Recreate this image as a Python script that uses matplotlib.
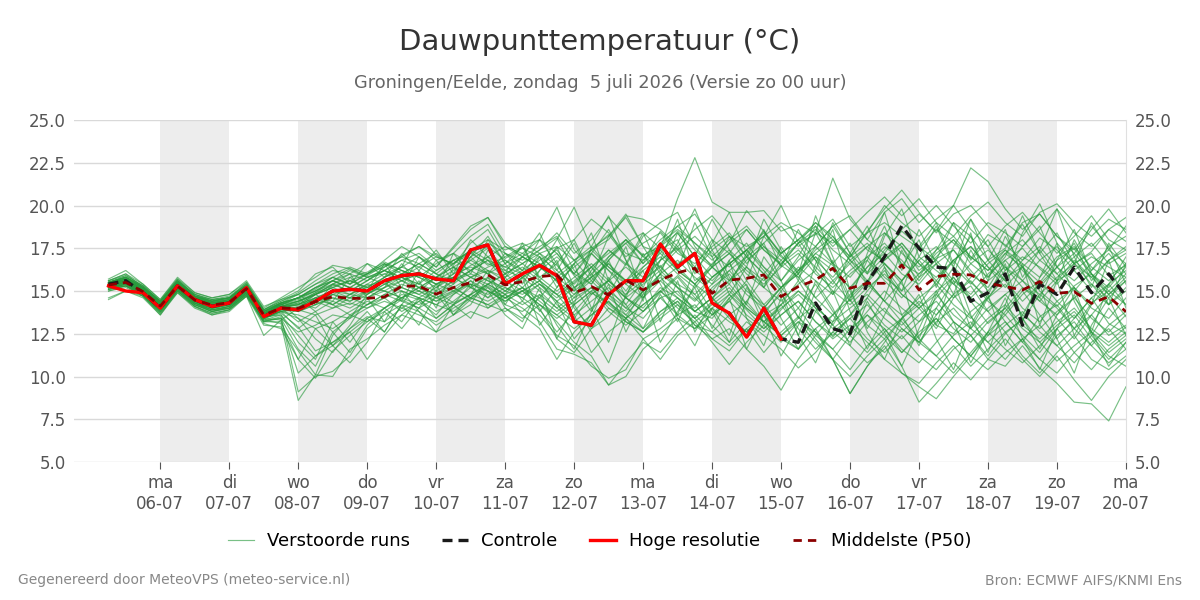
import numpy as np
import pandas as pd
import matplotlib
matplotlib.use("Agg")
import matplotlib.pyplot as plt
from matplotlib.lines import Line2D

# 6-hourly steps, 05-07 06:00 .. 20-07 00:00
times = pd.date_range("2026-07-05 06:00", periods=60, freq="6h")

hires = [15.3, 15.0, 14.9, 14.0, 15.3, 14.5, 14.1, 14.3, 15.2, 13.5, 14.0, 13.9,
         14.4, 15.0, 15.1, 15.0, 15.6, 15.9, 16.0, 15.7, 15.6, 17.4, 17.7, 15.4,
         16.0, 16.5, 15.9, 13.2, 13.0, 14.8, 15.6, 15.6, 17.75, 16.4, 17.2, 14.3,
         13.7, 12.3, 14.0, 12.2]

control = [15.4, 15.6, 14.9, 14.0, 15.3, 14.5, 14.1, 14.3, 15.2, 13.5, 14.0, 13.9,
           14.4, 15.0, 15.1, 15.0, 15.6, 15.9, 16.0, 15.7, 15.6, 17.4, 17.7, 15.4,
           16.0, 16.5, 15.9, 13.2, 13.0, 14.8, 15.6, 15.6, 17.7, 16.4, 17.2, 14.3,
           13.7, 12.3, 14.0, 12.2, 12.0, 14.3, 12.8, 12.5, 15.5, 17.0, 18.8, 17.5,
           16.4, 16.3, 14.4, 14.9, 16.0, 13.0, 15.4, 14.8, 16.4, 14.9, 16.0, 14.7]

median = [15.35, 15.5, 14.96, 14.12, 15.29, 14.47, 14.18, 14.32, 15.14, 13.6, 13.99, 13.99,
          14.38, 14.67, 14.57, 14.57, 14.65, 15.29, 15.29, 14.82, 15.2, 15.49, 15.94, 15.35,
          15.55, 15.84, 15.94, 14.9, 15.26, 14.77, 15.64, 15.06, 15.64, 16.07, 16.33, 14.86,
          15.64, 15.74, 15.94, 14.67, 15.26, 15.64, 16.33, 15.16, 15.45, 15.45, 16.52, 15.06,
          15.84, 15.98, 15.94, 15.45, 15.26, 15.06, 15.55, 14.86, 14.96, 14.28, 14.67, 13.79]

members = [
    [15.6,15.9,15.3,14.4,15.6,14.8,14.5,14.7,15.4,13.9,14.4, 14.9,15.6,16.2,16.0,15.6,16.4,17.1,17.6,16.8,17.2,18.2,18.9,
     17.2,16.6,17.4,18.1,16.2,15.4,16.8,18.0,17.1,17.6,18.8,19.5, 18.0,17.2,18.6,17.4,16.5,17.8,18.3,19.2,17.6,18.4,19.0,18.2,
     17.5,18.6,17.8,16.9,18.3,17.7,16.8,18.1,17.4,16.2,17.0,16.4,15.8],
    [15.1,15.3,14.8,13.8,15.1,14.2,13.8,14.0,14.8,13.3,13.1, 8.6,10.1,12.4,13.6,13.2,14.0,14.8,14.5,13.8,14.4,15.2,15.8,
     15.0,14.6,13.9,12.6,13.8,14.9,14.3,13.6,14.8,16.0,15.2,13.8, 13.4,14.6,15.4,13.0,14.2,15.6,14.0,12.3,13.6,15.0,16.2,14.8,
     14.0,12.8,14.6,15.3,13.8,12.6,13.3,14.8,14.0,12.8,14.3,15.0,14.2],
    [15.4,15.7,15.1,14.3,15.4,14.6,14.3,14.5,15.2,13.7,14.1, 14.3,14.9,15.6,15.2,15.0,15.8,16.4,18.3,17.1,16.5,17.8,18.6,
     16.9,17.5,17.0,15.5,14.6,16.2,17.4,16.5,18.2,19.0,19.6,17.6, 16.4,15.4,17.2,18.5,17.1,16.0,17.6,18.8,17.2,16.1,17.4,18.5,
     17.6,16.8,19.0,18.2,16.8,17.5,18.9,17.2,18.4,16.6,17.3,18.6,17.9],
    [15.2,15.4,14.9,14.0,15.2,14.4,14.0,14.2,15.0,13.5,13.8, 13.6,13.2,12.8,13.5,14.2,14.6,13.8,14.4,15.0,14.3,14.8,15.4,
     14.8,15.2,14.0,12.2,11.4,12.8,14.0,13.2,12.6,13.8,14.6,13.4, 12.2,11.5,12.8,11.4,12.6,13.5,12.2,11.0,12.4,13.6,12.8,11.6,
     10.8,12.0,13.2,12.4,11.2,12.5,13.4,12.0,10.9,11.8,12.6,11.4,12.2],
    [15.5,15.8,15.2,14.3,15.5,14.7,14.4,14.6,15.3,13.8,14.2, 14.5,15.0,15.4,15.8,16.1,16.7,16.2,15.8,15.2,16.0,16.8,17.5,
     16.2,15.8,16.5,17.2,15.9,14.8,15.6,16.4,15.5,16.8,17.5,16.2, 15.4,16.8,17.8,16.4,15.2,16.0,17.2,16.5,15.1,16.4,17.6,16.8,
     15.6,16.9,17.4,16.0,15.2,16.8,17.5,16.3,15.4,16.6,17.2,15.9,16.5],
    [15.0,15.2,14.7,13.7,15.0,14.1,13.6,13.9,14.7,13.2,13.5, 9.1,10.0,10.3,11.2,12.8,13.6,14.2,13.8,13.0,13.6,14.5,15.2,
     14.2,13.8,14.6,15.8,14.0,12.8,13.5,14.6,13.8,15.0,15.9,14.8, 13.6,14.4,15.6,14.2,13.0,14.0,15.4,13.8,12.6,13.8,15.0,14.0,
     13.2,14.6,15.8,14.4,13.1,14.0,15.2,14.6,13.4,12.2,13.6,14.8,13.5],
    [15.6,16.0,15.4,14.5,15.7,14.9,14.6,14.8,15.5,14.0,14.6, 15.2,15.8,16.5,16.3,15.8,16.2,16.8,17.2,16.4,17.5,18.6,19.3,
     17.8,17.0,16.4,18.0,19.9,17.5,18.2,19.3,17.6,17.2,18.5,17.4, 16.5,17.8,19.7,18.5,17.2,18.0,19.0,18.2,17.0,18.5,19.8,20.9,
     19.6,18.4,19.5,20.0,18.8,17.6,19.0,19.5,18.2,17.2,18.6,19.8,18.4],
    [15.3,15.6,15.0,14.2,15.3,14.5,14.2,14.4,15.1,13.6,14.0, 14.2,14.6,15.0,14.8,14.6,15.2,15.6,16.0,15.4,15.8,16.5,17.0,
     16.4,16.0,17.2,16.5,15.2,16.0,17.0,17.8,18.4,17.5,20.4,22.8, 20.2,19.6,19.6,19.7,18.5,18.9,18.4,17.8,18.6,17.4,16.8,17.6,
     16.2,17.0,18.0,16.6,15.8,17.2,16.4,15.5,16.8,17.5,16.0,15.2,16.4],
    [15.1,15.4,14.8,13.9,15.1,14.3,13.9,14.1,14.9,13.4,13.7, 12.9,11.5,12.0,12.8,13.5,13.2,14.0,14.6,14.2,13.8,14.6,15.3,
     14.6,14.0,13.2,11.6,11.3,10.8,9.5,10.0,11.6,12.5,13.4,12.8, 14.0,13.2,12.6,13.8,14.8,13.5,12.4,13.6,14.5,13.0,12.2,13.4,
     14.2,13.0,12.5,13.8,14.6,13.2,12.0,13.5,14.2,12.8,11.8,13.0,13.8],
    [15.4,15.6,15.1,14.2,15.4,14.6,14.3,14.4,15.2,13.7,14.1, 14.0,14.4,14.8,14.6,15.3,15.6,16.0,15.2,14.8,15.4,16.2,16.8,
     15.6,16.2,15.4,14.6,15.5,16.4,15.0,14.2,15.6,16.5,15.2,14.5, 15.8,16.6,15.3,14.0,15.2,16.2,17.0,15.6,14.4,15.5,16.6,15.4,
     14.2,15.6,16.8,15.5,14.6,15.8,16.4,15.0,14.1,15.3,16.0,14.8,15.6],
    [15.2,15.5,14.9,14.0,15.2,14.4,14.0,14.2,15.0,13.4,13.3, 10.2,11.2,12.0,12.6,13.4,14.0,14.6,15.0,14.4,14.9,15.6,15.0,
     14.4,15.0,15.6,14.2,13.4,14.8,15.6,14.6,13.8,14.9,15.8,14.6, 13.6,14.8,13.9,12.8,13.9,15.0,14.2,13.0,14.6,15.6,14.4,13.2,
     12.0,13.6,14.8,13.5,12.4,13.8,15.0,13.6,12.2,13.4,14.6,13.1,12.5],
    [15.5,15.8,15.2,14.4,15.5,14.7,14.4,14.6,15.3,13.8,14.3, 14.6,15.1,15.8,16.3,15.9,16.5,17.0,16.6,16.0,16.8,17.3,16.5,
     17.0,17.6,18.0,17.2,16.0,17.4,18.3,17.0,17.8,18.4,17.2,16.6, 17.6,18.4,17.0,17.8,18.8,17.6,18.4,21.6,19.2,18.0,17.2,18.6,
     19.5,18.5,20.0,22.2,21.4,19.8,18.6,19.5,18.2,17.4,18.8,17.6,18.2],
    [15.3,15.5,15.0,14.1,15.3,14.5,14.1,14.3,15.1,13.6,14.0, 13.8,14.2,14.6,14.4,14.9,15.2,15.8,15.4,15.0,15.6,16.0,15.6,
     15.2,14.8,15.4,14.4,13.6,14.4,15.2,14.0,13.4,14.6,15.0,13.8, 14.6,13.4,12.6,13.6,14.2,12.8,11.6,12.6,13.4,12.2,11.4,12.4,
     11.2,10.4,11.6,12.4,11.0,10.6,11.8,10.5,9.6,8.5,8.4,7.4,9.4],
    [15.4,15.7,15.1,14.2,15.4,14.6,14.2,14.4,15.2,13.7,14.1, 14.2,14.8,15.4,15.0,15.6,16.2,16.8,16.4,15.8,16.6,17.4,16.8,
     16.0,16.6,17.2,16.0,16.8,17.6,16.4,15.6,16.8,17.6,16.6,17.2, 16.4,15.6,16.8,17.6,16.5,15.8,17.0,16.2,15.2,16.4,17.2,16.0,
     15.4,16.6,17.4,16.2,15.0,16.2,17.0,16.4,15.6,16.8,15.8,14.8,15.8],
    [15.0,15.3,14.7,13.8,15.0,14.2,13.8,14.0,14.8,13.2,13.4, 12.6,13.0,13.6,13.4,14.0,14.4,14.0,13.6,13.2,14.0,14.6,14.2,
     13.8,14.4,13.6,12.4,11.8,10.6,9.9,10.4,12.2,12.8,13.6,14.2, 13.0,12.0,13.2,12.4,11.6,10.5,11.4,12.6,11.8,10.8,11.6,12.8,
     12.0,11.2,10.2,11.4,12.6,11.6,10.8,11.8,12.8,11.4,10.4,11.6,12.4],
    [15.5,15.9,15.3,14.4,15.6,14.8,14.4,14.6,15.4,13.9,14.4, 14.8,15.4,16.0,16.4,16.0,16.8,17.6,17.0,16.4,17.6,18.8,19.3,
     17.6,17.0,17.6,18.2,16.8,15.6,16.8,17.8,16.6,17.6,18.4,17.0, 15.8,16.6,17.4,16.2,15.0,16.2,17.4,18.2,16.8,15.6,16.8,17.8,
     16.6,15.4,16.8,17.6,16.4,15.2,16.4,17.4,16.0,15.0,16.2,17.2,16.0],
    [15.2,15.4,14.8,13.9,15.1,14.3,13.9,14.1,14.9,13.4,13.8, 13.9,13.6,14.0,14.3,14.0,14.6,15.0,14.6,14.2,14.8,15.4,15.0,
     14.6,15.2,14.4,13.6,14.4,15.2,14.0,13.4,14.2,15.0,14.2,13.4, 14.4,15.2,14.0,13.2,14.0,14.8,13.8,12.8,13.6,14.6,13.4,12.6,
     13.6,14.4,13.2,12.4,13.4,14.2,13.0,12.2,13.2,14.0,12.8,12.0,12.9],
    [15.1,15.3,14.8,13.8,15.0,14.2,13.8,14.0,14.8,13.2,13.2, 11.0,9.9,11.5,12.4,13.2,13.8,14.5,14.0,13.4,14.2,14.8,14.4,
     15.0,15.8,15.0,14.0,14.8,15.6,14.6,13.8,15.0,15.8,14.8,14.0, 15.2,16.0,14.8,14.0,15.2,16.0,14.6,13.6,14.8,15.6,14.4,13.6,
     14.6,15.4,14.2,13.4,14.6,15.4,14.0,13.2,14.4,15.2,14.0,13.4,14.6],
    [15.5,15.8,15.2,14.3,15.5,14.7,14.3,14.5,15.3,13.8,14.2, 14.6,15.2,15.6,15.2,15.8,16.0,16.4,17.0,16.2,16.8,17.2,16.6,
     16.2,17.0,16.4,17.5,18.0,19.2,18.4,17.2,16.8,17.8,18.6,17.8, 16.8,17.8,18.6,17.4,16.6,17.8,19.0,18.0,17.0,18.4,20.0,19.0,
     18.2,19.2,20.0,18.6,17.6,18.8,19.6,18.4,17.2,18.2,19.4,18.0,17.4],
    [15.3,15.5,15.0,14.1,15.3,14.4,14.1,14.3,15.1,13.5,13.9, 14.1,14.5,14.2,14.8,15.2,15.0,15.6,16.0,15.4,15.0,15.8,16.2,
     15.6,15.0,15.6,14.8,14.2,15.0,15.6,14.6,14.0,15.2,14.6,13.8, 14.6,13.6,12.6,13.6,12.2,11.6,12.8,11.0,9.0,10.6,11.8,10.2,
     9.6,10.8,11.8,10.6,11.6,12.6,11.2,10.2,11.4,12.4,11.0,10.4,11.2],
    [15.4,15.6,15.1,14.2,15.4,14.6,14.2,14.4,15.2,13.7,14.1, 14.4,14.8,15.2,15.6,15.2,15.8,16.2,15.8,15.4,16.0,16.4,16.0,
     15.4,16.0,16.6,15.8,15.0,15.8,16.6,15.6,15.0,16.0,16.8,15.8, 15.0,16.2,17.0,16.0,15.2,16.4,15.6,14.8,16.0,16.8,15.6,14.6,
     15.8,16.6,15.4,14.6,15.6,16.4,15.2,14.4,15.6,16.2,15.0,14.2,15.2],
    [15.2,15.4,14.9,14.0,15.2,14.3,14.0,14.2,15.0,13.4,13.8, 13.4,12.8,13.2,13.8,14.4,14.0,14.6,15.2,14.6,14.2,14.8,15.4,
     14.8,14.2,14.8,14.0,13.2,14.0,14.8,13.6,12.8,13.8,14.4,13.0, 12.2,12.8,11.6,10.6,9.2,11.0,12.4,11.6,10.4,11.8,12.8,11.4,
     12.4,13.4,12.2,11.2,12.6,13.6,12.4,11.4,12.8,13.6,12.2,11.0,12.0],
    [15.7,16.2,15.4,14.5,15.8,14.9,14.6,14.8,15.6,14.1,14.5, 14.8,15.4,15.8,15.4,16.0,16.6,16.0,16.6,17.2,16.4,17.0,17.6,
     16.8,16.2,17.0,16.2,15.4,16.4,17.4,16.6,15.8,16.8,17.6,16.4, 15.6,16.6,17.4,16.4,15.6,16.8,17.6,16.6,15.8,17.0,17.8,16.6,
     16.0,17.2,18.0,17.0,16.2,17.4,16.6,15.8,17.0,17.6,16.4,15.6,16.6],
    [14.6,15.0,14.6,13.6,14.9,14.0,13.6,13.8,14.7,13.0,12.9, 11.5,10.1,10.0,11.6,12.2,13.0,13.6,13.2,12.6,13.2,13.8,13.4,
     14.0,13.4,14.2,13.6,12.8,13.6,14.4,13.2,12.6,13.4,14.2,13.0, 12.6,13.6,14.4,13.2,12.4,13.4,14.2,13.0,12.0,13.2,14.0,12.8,
     12.0,13.2,14.0,12.8,12.0,13.0,13.8,12.6,11.8,12.8,13.6,12.4,13.0],
    [15.4,15.7,15.1,14.3,15.5,14.7,14.3,14.5,15.3,13.8,14.2, 14.4,14.9,15.3,15.6,16.0,16.4,17.0,17.6,17.0,16.6,17.4,18.0,
     17.4,17.8,17.2,17.6,16.8,17.4,18.0,19.4,19.2,18.6,17.6,18.6, 19.4,18.2,17.6,18.2,19.0,18.4,17.6,18.8,19.4,18.0,19.6,20.4,
     19.0,20.0,18.8,17.8,19.0,18.4,17.6,18.6,19.8,18.4,17.6,18.6,19.3],
    [15.3,15.6,15.0,14.1,15.3,14.5,14.2,14.3,15.1,13.6,14.0, 14.0,14.6,14.2,14.8,15.4,15.0,14.6,15.2,15.8,15.2,14.6,15.4,
     16.0,15.2,16.2,17.0,16.0,17.2,16.2,15.0,16.4,17.4,16.2,15.4, 16.6,17.4,16.4,15.6,16.8,15.8,14.6,15.6,16.6,15.4,14.4,15.6,
     16.8,15.6,14.6,15.8,16.8,15.6,14.4,15.4,16.4,15.2,14.2,15.4,16.2],
    [15.2,15.5,14.9,14.0,15.2,14.4,14.0,14.2,15.0,13.5,13.9, 13.8,14.2,14.6,14.2,14.8,15.4,15.0,14.6,15.2,15.8,15.2,14.6,
     15.2,14.6,15.4,14.8,13.6,11.4,12.6,13.4,12.2,11.0,12.4,13.2, 12.0,10.7,12.0,13.0,12.0,13.2,12.6,11.6,12.8,13.6,12.4,11.4,
     12.6,13.4,12.2,11.2,12.4,13.2,12.0,11.0,12.4,13.2,11.8,10.8,11.6],
    [15.4,15.7,15.1,14.2,15.4,14.6,14.3,14.4,15.2,13.7,14.2, 14.6,15.0,15.6,16.2,15.8,15.4,16.0,16.6,16.0,15.6,16.2,16.8,
     16.4,17.0,16.4,15.6,16.4,17.2,16.2,15.4,16.2,17.0,16.0,15.2, 16.4,17.2,16.0,15.2,16.6,17.4,16.4,15.4,16.8,17.6,16.6,15.6,
     17.0,16.2,15.4,16.6,17.4,16.4,15.6,16.8,17.6,16.6,15.8,16.8,17.4],
    [15.1,15.3,14.7,13.6,15.0,14.1,13.7,13.9,14.7,12.4,13.3, 14.0,14.8,14.2,13.6,14.2,14.8,14.4,14.0,14.6,15.0,14.4,14.0,
     14.6,15.0,14.2,13.4,14.2,15.0,13.8,13.0,13.8,14.6,13.6,12.8, 13.6,14.4,13.4,12.6,13.6,14.4,13.2,12.4,13.4,14.2,13.0,12.2,
     13.2,14.0,12.8,12.0,13.2,14.0,12.8,12.0,13.0,13.8,12.6,11.8,12.6],
    [15.5,15.8,15.2,14.3,15.5,14.7,14.4,14.6,15.3,13.8,14.3, 14.6,15.2,15.6,15.2,15.8,16.2,15.8,15.4,16.2,16.8,16.2,17.0,
     17.6,17.2,18.0,19.9,17.4,16.4,17.2,18.0,17.0,16.4,17.4,18.2, 17.2,16.4,17.4,18.2,17.0,16.2,17.2,18.0,16.8,16.0,17.0,17.8,
     16.6,15.8,16.8,17.6,16.4,15.6,16.8,17.6,16.4,15.6,16.6,17.4,16.6],
    [15.3,15.5,15.0,14.1,15.3,14.5,14.1,14.3,15.1,13.6,14.0, 14.2,14.6,14.4,14.0,14.6,15.0,14.6,14.2,14.8,15.2,14.6,14.2,
     14.8,13.6,12.8,11.0,12.6,13.6,14.4,13.4,12.6,13.6,14.4,13.4, 14.2,15.0,14.0,13.2,14.2,15.0,14.0,13.2,14.0,14.8,13.8,13.0,
     14.0,14.8,13.6,12.8,14.0,14.8,13.6,12.8,13.8,14.6,13.4,12.6,13.6],
    [15.3,15.6,15.0,14.1,15.3,14.5,14.2,14.3,15.1,13.6,14.0, 14.3,14.0,14.8,15.2,14.8,15.4,15.8,15.2,14.8,15.6,16.2,15.6,
     15.0,15.8,16.4,15.6,14.8,15.8,16.6,15.4,14.6,15.6,16.4,15.4, 14.6,15.6,16.4,15.2,14.4,15.4,16.2,15.0,14.2,15.2,16.0,14.8,
     14.0,15.0,15.8,14.6,13.8,14.8,15.6,14.4,13.6,14.6,15.4,14.2,15.0],
    [15.5,15.8,15.3,14.4,15.6,14.8,14.5,14.6,15.4,13.9,14.3, 14.6,15.0,15.6,16.0,16.6,16.2,15.8,16.4,17.0,16.6,17.2,17.8,
     17.2,16.8,17.4,18.4,17.2,18.0,19.3,18.2,17.0,18.0,18.8,17.8, 17.0,18.0,18.8,17.6,16.8,17.8,18.6,17.4,16.6,17.6,18.4,17.2,
     16.4,17.4,18.2,17.0,16.2,17.2,18.0,16.8,16.0,17.0,17.8,16.6,17.2],
    [15.2,15.4,14.9,14.0,15.2,14.3,14.0,14.2,15.0,13.5,13.9, 14.0,14.4,14.0,14.6,15.0,14.6,15.2,14.8,14.4,15.0,15.4,15.0,
     14.4,15.0,14.2,13.2,12.0,11.2,9.5,10.8,12.0,11.4,12.6,13.6, 12.6,11.8,12.8,13.6,12.4,11.6,12.8,13.6,12.4,11.4,12.6,13.4,
     12.2,11.2,12.4,13.2,12.0,11.0,12.2,13.0,11.8,10.8,12.0,12.8,11.6],
    [15.3,15.5,15.0,14.1,15.3,14.4,14.1,14.3,15.1,13.6,13.9, 14.0,14.4,14.8,14.4,15.0,15.6,15.2,14.8,15.4,15.8,15.2,14.8,
     15.4,16.0,15.2,14.4,15.2,15.8,14.8,14.0,15.0,15.6,14.6,13.8, 14.6,15.4,14.2,13.2,12.4,13.2,12.0,11.0,10.0,11.2,12.2,10.6,
     8.5,9.6,10.8,9.8,11.0,12.2,11.0,10.0,11.2,9.8,8.6,10.0,11.0],
    [15.4,15.7,15.1,14.2,15.4,14.6,14.3,14.5,15.2,13.7,14.1, 14.4,14.8,15.2,14.8,15.4,16.0,15.6,15.2,15.8,16.4,15.8,15.4,
     16.0,16.6,15.8,15.0,15.8,16.6,15.6,14.8,15.6,16.4,15.4,14.8, 15.8,16.6,17.4,18.4,17.2,18.0,18.8,17.6,18.6,19.6,20.5,19.4,
     20.4,19.0,18.2,19.4,20.2,19.0,18.2,19.6,20.1,19.0,18.2,19.2,18.6],
    [15.3,15.6,15.0,14.2,15.4,14.5,14.2,14.4,15.1,13.7,14.1, 14.2,14.8,15.4,15.0,15.6,16.2,15.6,15.0,15.8,16.4,15.8,16.4,
     16.8,16.0,16.8,17.4,16.0,15.4,17.0,18.0,16.6,18.5,17.4,16.2, 17.4,18.2,17.0,16.0,17.2,18.0,16.8,15.8,17.0,17.8,16.6,15.6,
     16.8,17.6,16.4,15.4,16.6,17.4,16.2,15.2,16.4,17.2,16.0,15.0,16.0],
    [15.2,15.4,14.8,13.9,15.1,14.3,13.9,14.1,14.9,13.4,13.8, 14.0,14.6,15.0,14.6,14.2,14.8,15.4,15.0,14.6,15.2,15.8,15.2,
     14.6,15.2,14.6,13.8,14.6,15.2,14.2,13.4,14.2,15.0,14.0,13.2, 14.0,14.8,13.6,12.8,13.6,14.4,13.2,12.2,13.0,12.0,11.0,10.2,
     9.4,8.7,10.0,11.2,10.4,11.4,12.2,11.0,10.2,11.4,12.4,11.2,10.6],
    [15.4,15.7,15.1,14.2,15.4,14.6,14.2,14.4,15.2,13.7,14.1, 14.4,14.8,15.2,15.6,15.2,15.8,16.4,16.0,15.6,16.2,16.8,16.2,
     15.8,16.4,15.6,14.8,15.6,16.4,15.4,14.6,15.4,16.2,15.2,14.4, 15.4,16.2,15.0,14.2,15.2,14.0,12.6,11.0,9.0,10.6,12.0,13.4,
     14.4,13.6,14.8,15.6,14.4,13.6,14.8,15.6,14.4,13.4,14.6,15.4,14.2],
    [15.5,15.8,15.2,14.3,15.5,14.7,14.4,14.6,15.3,13.8,14.3, 14.6,15.2,15.8,15.4,16.0,16.6,16.2,15.8,16.6,17.2,16.6,16.0,
     16.6,17.2,16.6,15.8,16.6,17.4,16.4,15.6,16.4,17.2,16.2,15.4, 16.4,17.2,16.2,15.4,16.4,17.2,16.0,15.2,16.2,17.0,15.8,15.0,
     16.0,16.8,15.6,14.8,16.0,16.8,15.6,14.8,15.8,16.6,15.4,14.6,15.6],
    [15.3,15.5,14.9,14.0,15.2,14.4,14.0,14.2,15.0,13.5,13.6, 12.4,11.2,11.8,12.6,11.0,12.4,13.6,14.4,13.6,14.8,15.6,14.6,
     15.8,14.4,16.2,17.6,15.2,13.8,16.8,14.6,17.2,15.4,13.6,16.4, 18.0,15.8,14.2,17.0,15.6,13.4,16.6,18.6,15.0,12.8,14.6,17.4,
     15.2,13.0,16.0,18.4,14.8,16.6,13.2,15.8,17.8,14.4,12.6,15.4,17.0],
    [15.4,15.8,15.0,14.3,15.5,14.5,14.4,14.4,15.3,13.6,14.3, 13.4,12.2,11.4,12.8,13.8,12.6,14.2,15.6,14.0,16.4,15.2,17.4,
     16.0,17.8,15.6,16.8,14.2,17.6,19.4,16.8,14.4,17.8,16.2,19.0, 17.0,14.8,16.4,19.2,17.4,15.6,18.4,16.6,14.4,17.2,19.6,16.4,
     18.0,15.2,17.6,19.2,16.8,18.6,15.8,17.4,19.8,17.0,15.2,17.8,16.4],
    [15.2,15.3,14.8,13.9,15.1,14.3,13.8,14.1,14.9,13.3,13.4, 11.6,10.6,12.6,11.4,13.0,14.0,13.2,14.6,13.4,14.2,15.4,14.0,
     14.8,16.0,13.8,15.2,16.6,14.0,12.0,14.8,16.2,13.2,15.6,12.6, 14.4,16.8,13.4,11.8,14.6,12.4,15.0,16.8,13.8,11.6,13.6,15.6,
     12.2,14.8,16.4,13.6,11.4,14.2,16.6,13.0,15.6,12.4,14.2,16.8,14.0],
    [15.6,16.0,15.2,14.4,15.7,14.7,14.5,14.6,15.5,13.9,14.5, 15.0,16.0,16.4,15.4,16.6,15.8,17.2,16.2,17.4,16.0,18.0,17.0,
     15.8,17.0,18.4,16.2,17.8,15.8,18.2,19.5,17.6,16.0,18.4,17.0, 19.2,17.4,15.6,18.2,20.0,17.8,16.2,19.0,17.2,15.4,18.2,19.8,
     17.0,18.8,16.4,19.2,17.6,15.8,18.4,20.1,17.8,16.6,19.0,17.4,18.8],
    [14.5,15.0,14.7,13.7,14.9,14.1,13.7,13.9,14.8,13.1,12.8, 11.0,12.8,11.8,13.0,14.6,13.2,15.0,13.8,12.6,14.2,13.4,15.0,
     13.6,12.8,14.8,13.0,11.6,13.8,15.4,12.6,14.6,16.0,13.4,11.8, 14.0,12.4,15.2,13.6,11.2,13.0,15.6,14.0,11.8,14.4,12.6,10.6,
     12.8,15.0,13.2,10.8,12.6,14.6,12.2,10.4,12.8,14.8,12.6,10.6,12.0],
    [15.4,15.6,15.1,14.1,15.4,14.5,14.3,14.3,15.2,13.7,14.0, 13.2,13.8,12.6,13.4,14.8,15.6,14.4,16.2,15.0,17.2,16.0,18.0,
     16.6,15.4,17.0,15.2,16.6,18.4,15.6,17.6,14.6,16.8,19.2,16.0, 17.8,19.6,17.2,15.2,17.6,16.0,19.4,17.0,14.6,16.8,18.8,16.2,
     18.6,16.6,14.8,17.4,15.6,18.2,16.4,14.6,16.8,18.6,16.0,14.2,16.6],
    [15.3,15.5,15.0,14.1,15.2,14.4,14.1,14.2,15.0,13.6,13.8, 12.8,13.6,11.8,10.8,12.0,13.8,12.8,14.0,15.4,13.6,14.8,16.2,
     14.2,15.8,13.0,14.4,12.2,13.4,15.8,14.2,12.8,14.8,13.2,15.4, 13.8,12.0,14.4,15.8,13.4,11.6,13.8,15.0,12.6,14.6,16.4,13.6,
     11.8,14.0,15.6,12.8,14.6,16.0,13.4,11.6,13.6,15.2,12.4,14.0,12.8],
    [15.5,15.7,15.2,14.3,15.6,14.6,14.4,14.5,15.3,13.8,14.3, 14.8,14.2,15.4,16.0,14.6,15.2,16.6,15.4,16.8,15.6,17.0,18.2,
     16.6,17.6,15.8,16.6,18.0,16.0,14.8,16.6,18.4,16.2,17.8,19.8, 17.4,15.6,17.0,18.6,16.4,18.6,16.8,14.8,17.2,18.8,16.4,15.0,
     17.6,19.0,16.6,18.2,15.8,17.0,19.4,17.2,15.6,18.0,16.2,17.6,15.4],
    [15.2,15.4,14.8,13.8,15.1,14.2,13.9,14.0,14.9,13.3,13.6, 12.0,11.0,13.2,12.0,13.4,12.6,14.2,13.0,14.8,13.6,14.2,15.8,
     14.0,13.2,15.2,12.2,14.2,12.6,10.8,13.4,15.0,12.0,13.8,15.2, 12.8,14.6,11.6,13.6,15.0,12.4,10.8,13.2,15.2,12.6,11.0,13.4,
     14.8,12.2,10.4,13.0,14.8,11.8,13.6,15.4,12.2,10.2,13.0,14.6,12.4],
    [15.4,15.6,15.1,14.2,15.4,14.6,14.2,14.4,15.2,13.6,14.2, 14.6,13.8,14.4,15.8,15.0,16.6,15.2,17.0,16.0,15.4,17.0,16.0,
     17.2,16.2,18.0,16.6,15.0,17.2,18.6,16.8,15.2,17.4,18.0,15.6, 16.4,18.2,16.6,17.8,15.6,17.0,18.8,16.6,17.8,16.0,18.4,17.6,
     15.8,17.4,19.0,16.8,18.0,16.2,17.6,18.8,16.4,17.8,15.6,16.8,17.6],
]

day_ticks = pd.date_range("2026-07-06", "2026-07-20", freq="D")
weekdays = ["ma", "di", "wo", "do", "vr", "za", "zo"]
tick_labels = [f"{weekdays[d.weekday()]}\n{d.strftime('%d-%m')}" for d in day_ticks]

fig = plt.figure(figsize=(12, 6), dpi=100)
ax = fig.add_axes([0.0617, 0.23, 0.8766, 0.57])

# alternating grey day bands
for k in range(0, len(day_ticks) - 1, 2):
    ax.axvspan(day_ticks[k], day_ticks[k + 1], color="#ededed", lw=0, zorder=0)

ens_color = "#279a3c"
for m in members:
    ax.plot(times, m, color=ens_color, alpha=0.62, lw=0.85, zorder=2)
ax.plot(times, control, color="#1a1a1a", lw=2.4, ls=(0, (3, 1.8)), zorder=3)
ax.plot(times[:len(hires)], hires, color="#ff0000", lw=2.4, zorder=4)
ax.plot(times, median, color="#8b0000", lw=2.0, ls=(0, (3, 2.2)), zorder=5)

ax.set_xlim(pd.Timestamp("2026-07-04 18:00"), pd.Timestamp("2026-07-20 00:00"))
ax.set_ylim(5, 25)
ax.set_yticks(np.arange(5, 25.1, 2.5))
ax.yaxis.set_major_formatter(matplotlib.ticker.FormatStrFormatter("%.1f"))
ax.set_xticks(day_ticks)
ax.set_xticklabels(tick_labels)
ax.grid(axis="y", color="#d9d9d9", lw=1)
ax.set_axisbelow(True)
ax.tick_params(axis="y", length=0, labelsize=12, labelcolor="#555555",
               labelright=True, pad=6)
ax.tick_params(axis="x", length=5, color="#555555", labelsize=12,
               labelcolor="#555555", pad=4)
for side in ["left", "top", "bottom"]:
    ax.spines[side].set_visible(False)
ax.spines["right"].set_color("#e0e0e0")

fig.text(0.5, 0.93, "Dauwpunttemperatuur (°C)", ha="center", va="center",
         fontsize=21, color="#333333")
fig.text(0.5, 0.861, "Groningen/Eelde, zondag  5 juli 2026 (Versie zo 00 uur)",
         ha="center", va="center", fontsize=12.8, color="#666666")

handles = [
    Line2D([], [], color=ens_color, alpha=0.62, lw=0.85),
    Line2D([], [], color="#1a1a1a", lw=2.4, ls=(0, (3, 1.8))),
    Line2D([], [], color="#ff0000", lw=2.4),
    Line2D([], [], color="#8b0000", lw=2.0, ls=(0, (3, 2.2))),
]
labels = ["Verstoorde runs", "Controle", "Hoge resolutie", "Middelste (P50)"]
fig.legend(handles, labels, loc="center", bbox_to_anchor=(0.5, 0.098), ncol=4,
           frameon=False, fontsize=13, columnspacing=1.8, handlelength=1.45,
           handletextpad=0.7)

fig.text(0.015, 0.033, "Gegenereerd door MeteoVPS (meteo-service.nl)",
         ha="left", va="center", fontsize=10, color="#888888")
fig.text(0.985, 0.033, "Bron: ECMWF AIFS/KNMI Ens", ha="right", va="center",
         fontsize=10, color="#888888")

fig.savefig("out.png", dpi=100)
